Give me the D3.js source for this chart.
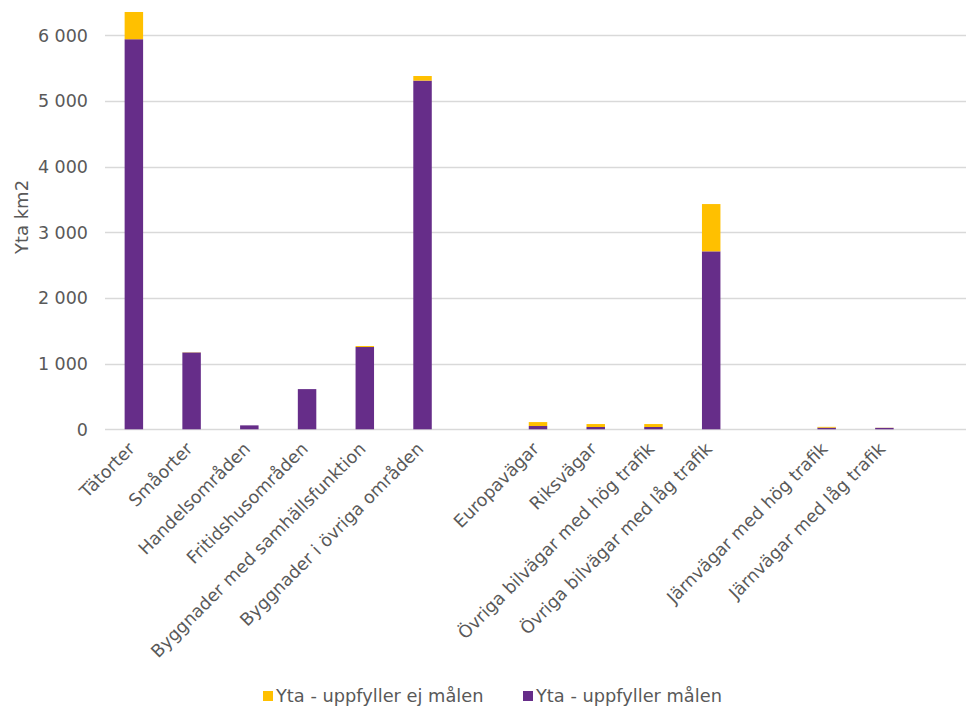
<!DOCTYPE html>
<head>
    <script src="https://d3js.org/d3.v7.min.js"></script>
    <style>
body {
  margin: 0;
  background: #fff;
  font-family: Verdana, "DejaVu Sans", sans-serif;
}
</style>
</head>
<body>
    <svg></svg>
</body>

<script>
    // categories, blank strings are the gaps between groups
    var categories = ["Tätorter", "Småorter", "Handelsområden", "Fritidshusområden",
        "Byggnader med samhällsfunktion", "Byggnader i övriga områden", "",
        "Europavägar", "Riksvägar", "Övriga bilvägar med hög trafik", "Övriga bilvägar med låg trafik", "",
        "Järnvägar med hög trafik", "Järnvägar med låg trafik", ""];

    var uppfyller = [5940, 1170, 60, 612, 1253, 5310, 0, 50, 35, 35, 2710, 0, 25, 22, 0];
    var uppfyllerEj = [415, 3, 0, 0, 15, 70, 0, 60, 45, 45, 720, 0, 12, 2, 0];

    var seriesNames = ["Yta - uppfyller ej målen", "Yta - uppfyller målen"];
    var seriesColors = ["#ffc000", "#662d89"];
    var yTicks = [0, 1000, 2000, 3000, 4000, 5000, 6000];

    var width = 966;
    var height = 706;
    var margin = {top: 35, right: 0, bottom: 277, left: 105};

    var svg = d3.select('svg')
        .attr('width', width)
        .attr('height', height);

    // index domain so the blank gap slots stay separate
    var x = d3.scaleBand()
        .domain(d3.range(categories.length))
        .range([margin.left, 971])
        .paddingInner(0.68)
        .paddingOuter(0.34);

    var y = d3.scaleLinear()
        .domain([0, 6000])
        .range([429.3, 35.3]);

    // grid
    svg.append('g')
        .selectAll('line')
        .data(yTicks)
        .enter().append('line')
        .attr('x1', margin.left)
        .attr('x2', width)
        .attr('y1', function (d) { return Math.round(y(d)) + 0.5; })
        .attr('y2', function (d) { return Math.round(y(d)) + 0.5; })
        .style('stroke', '#d9d9d9')
        .style('stroke-width', 1.3);

    // y tick labels
    var fmt = function (d) { return d3.format(',')(d).replace(/,/g, ' '); };
    svg.append('g')
        .selectAll('text')
        .data(yTicks)
        .enter().append('text')
        .attr('x', 88)
        .attr('y', function (d) { return y(d); })
        .attr('dy', '0.36em')
        .attr('text-anchor', 'end')
        .style('font-size', '17.5px')
        .style('fill', '#595959')
        .text(fmt);

    svg.append('text')
        .attr('transform', 'translate(28,217)rotate(-90)')
        .attr('text-anchor', 'middle')
        .style('font-size', '18px')
        .style('fill', '#595959')
        .text('Yta km2');

    // stacked bars
    var rows = categories.map(function (c, i) {
        return {i: i, ok: uppfyller[i], ej: uppfyllerEj[i]};
    });
    var layers = d3.stack().keys(['ok', 'ej'])(rows);

    svg.append('g')
        .selectAll('g')
        .data(layers)
        .enter().append('g')
        .style('fill', function (d, i) { return i == 0 ? seriesColors[1] : seriesColors[0]; })
        .selectAll('rect')
        .data(function (d) { return d; })
        .enter().append('rect')
        .attr('x', function (d) { return x(d.data.i); })
        .attr('width', x.bandwidth())
        .attr('y', function (d) { return y(d[1]); })
        .attr('height', function (d) { return y(d[0]) - y(d[1]); });

    // x labels
    svg.append('g')
        .selectAll('text')
        .data(categories)
        .enter().append('text')
        .attr('text-anchor', 'end')
        .attr('transform', function (d, i) {
            return 'translate(' + (x(i) + x.bandwidth() / 2 + 2) + ',450)rotate(-45)';
        })
        .style('font-size', '17.5px')
        .style('fill', '#595959')
        .text(function (d) { return d; });

    // legend
    var legendX = [263, 523];
    var legend = svg.append('g')
        .selectAll('g')
        .data(seriesNames)
        .enter().append('g')
        .attr('transform', function (d, i) { return 'translate(' + legendX[i] + ',691)'; });
    legend.append('rect')
        .attr('width', 10)
        .attr('height', 10)
        .style('fill', function (d, i) { return seriesColors[i]; });
    legend.append('text')
        .attr('x', 13)
        .attr('y', 11)
        .style('font-size', '17.8px')
        .style('fill', '#595959')
        .text(function (d) { return d; });
</script>
